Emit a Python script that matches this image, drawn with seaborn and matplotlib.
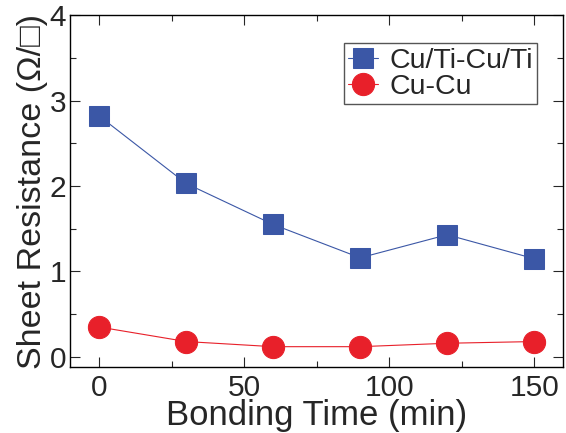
import numpy as np
import pandas as pd
import matplotlib
matplotlib.use("Agg")
import matplotlib.pyplot as plt
from matplotlib.ticker import MultipleLocator
import seaborn as sns

# ── data ────────────────────────────────────────────────────────────
time_min = [0, 30, 60, 90, 120, 150]
cuti_res = [2.82, 2.03, 1.55, 1.16, 1.43, 1.15]
cucu_res = [0.35, 0.18, 0.12, 0.12, 0.16, 0.18]
series_names = ["Cu/Ti-Cu/Ti", "Cu-Cu"]

df = pd.DataFrame({
    "time": time_min * 2,
    "res": cuti_res + cucu_res,
    "sample": [series_names[0]] * len(time_min) + [series_names[1]] * len(time_min),
})

sns.set_style("ticks")
plt.rcParams["font.family"] = ["Liberation Sans", "DejaVu Sans"]

fig = plt.figure(figsize=(5.66, 4.33), dpi=100)
ax = fig.add_axes([0.124, 0.152, 0.871, 0.813])

sns.lineplot(
    data=df, x="time", y="res", hue="sample", style="sample",
    hue_order=series_names, style_order=series_names,
    palette={"Cu/Ti-Cu/Ti": "#3b57a6", "Cu-Cu": "#e8202a"},
    markers={"Cu/Ti-Cu/Ti": "s", "Cu-Cu": "o"},
    dashes=False, linewidth=0.8, ax=ax,
)
for line in ax.lines:
    mk = line.get_marker()
    line.set_markersize(14 if mk == "s" else 16)
    line.set_markeredgecolor(line.get_color())

ax.set_xlim(-10, 160)
ax.set_ylim(-0.12, 4)
ax.xaxis.set_major_locator(MultipleLocator(50))
ax.xaxis.set_minor_locator(MultipleLocator(25))
ax.yaxis.set_major_locator(MultipleLocator(1))
ax.yaxis.set_minor_locator(MultipleLocator(0.5))
ax.tick_params(which="both", direction="in", top=True, right=True, width=0.8)
ax.tick_params(which="major", length=7, labelsize=21.5)
ax.tick_params(which="minor", length=4)
ax.tick_params(axis="x", pad=5)
ax.tick_params(axis="y", pad=3)
for s in ax.spines.values():
    s.set_linewidth(1.0)
    s.set_color("black")

ax.set_xlabel("Bonding Time (min)", fontsize=25, labelpad=-2)
ax.set_ylabel("Sheet Resistance (\u03a9/\u25a1)", fontsize=24.5, labelpad=1)

leg = ax.legend(
    loc="upper right", bbox_to_anchor=(0.947, 0.92), borderaxespad=0,
    fontsize=20.5, frameon=True, fancybox=False, edgecolor="#555555",
    framealpha=1, handlelength=1.05, handletextpad=0.4, borderpad=0.15,
    labelspacing=0.0,
)
leg.get_frame().set_linewidth(1.0)
for h in leg.legend_handles:
    h.set_markersize(14 if h.get_marker() == "s" else 16)
    h.set_markeredgecolor(h.get_color())

fig.savefig("out.png", dpi=100)
